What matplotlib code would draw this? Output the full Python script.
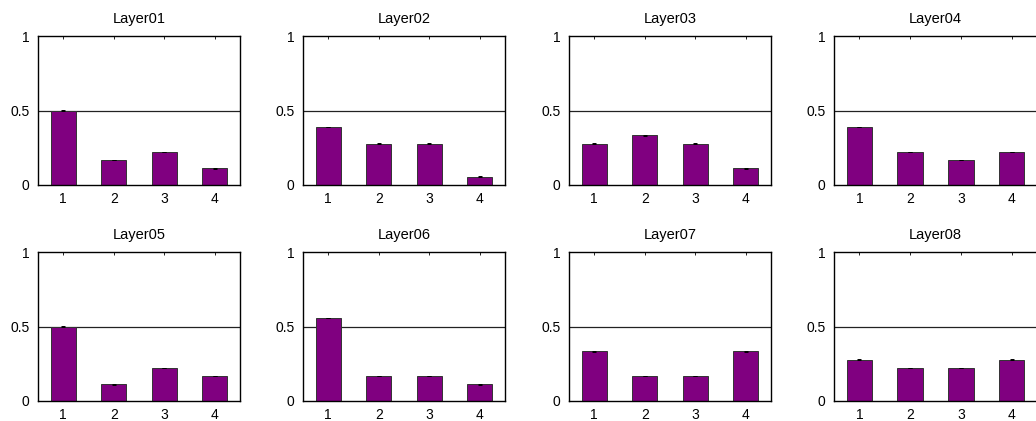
import numpy as np
from matplotlib import pyplot as plt

# datos
titles = ["Layer01", "Layer02", "Layer03", "Layer04",
          "Layer05", "Layer06", "Layer07", "Layer08"]
categories = [1, 2, 3, 4]
values = [
    [0.500, 0.167, 0.222, 0.111],
    [0.389, 0.278, 0.278, 0.056],
    [0.278, 0.333, 0.278, 0.111],
    [0.389, 0.222, 0.167, 0.222],
    [0.500, 0.111, 0.222, 0.167],
    [0.556, 0.167, 0.167, 0.111],
    [0.333, 0.167, 0.167, 0.333],
    [0.278, 0.222, 0.222, 0.278],
]
errors = [0.002, 0.002, 0.002, 0.002]
yticks = [0, 0.5, 1]
yticklabels = ["0", "0.5", "1"]

plt.rcParams['font.family'] = ['Liberation Sans', 'DejaVu Sans']

W, H = 1036, 421
fig = plt.figure(figsize=(W / 100, H / 100), dpi=100)

lefts = [38, 303, 569, 834]
tops = [36, 252]
aw, ah = 202, 149

for i, t in enumerate(titles):
    row, col = divmod(i, 4)
    l = lefts[col]
    top = tops[row]
    ax = fig.add_axes([l / W, 1 - (top + ah) / H, (aw + (1 if col == 3 else 0)) / W, ah / H])
    ax.axhline(0.5, color="#222222", lw=0.9, zorder=1)
    ax.bar(categories, values[i], width=0.5, color="#800080",
           edgecolor="#333333", linewidth=0.7, zorder=2,
           yerr=errors, capsize=1.5, error_kw=dict(ecolor="black", elinewidth=0.7, capthick=0.7))
    ax.set_xlim(0.5, 4.5)
    ax.set_ylim(0, 1)
    ax.set_xticks(categories)
    ax.set_yticks(yticks)
    ax.set_yticklabels(yticklabels)
    ax.tick_params(axis="x", direction="in", top=True, bottom=True, length=2, width=0.6, pad=5, labelsize=10)
    ax.tick_params(axis="y", direction="in", left=True, length=0, pad=6, labelsize=10)
    for s in ax.spines.values():
        s.set_linewidth(1.0)
    ax.set_title(t, fontsize=10.5, pad=9)

fig.savefig("out.png", dpi=100)
